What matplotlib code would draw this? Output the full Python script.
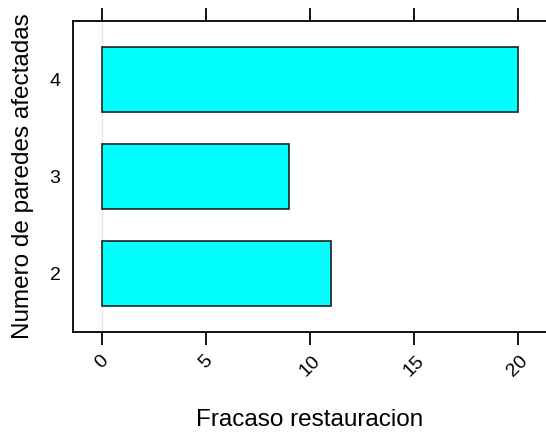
import numpy as np
import matplotlib.pyplot as plt

# ---------------- DATA ---------------- #
categorias = ["2", "3", "4"]
fracasos = [11, 9, 20]
x_ticks = [0, 5, 10, 15, 20]

plt.rcParams['font.family'] = ['Liberation Sans', 'DejaVu Sans']

fig = plt.figure(figsize=(5.46, 4.36), dpi=100)
ax = fig.add_axes([73 / 546, 1 - 332 / 436, 474 / 546, 311 / 436])

y = np.arange(1, len(categorias) + 1)

# reference line at origin (lattice style)
ax.axvline(0, color='#e6e6e6', lw=1, zorder=0)
ax.barh(y, fracasos, height=0.67, color='#00ffff', edgecolor='#202020', lw=1.2, zorder=2)

ax.set_xlim(-1.4, 21.4)
ax.set_ylim(0.4, 3.6)

ax.set_xticks(x_ticks)
ax.set_xticklabels([str(t) for t in x_ticks], rotation=45, fontsize=14)
ax.tick_params(axis='x', which='both', top=True, bottom=True, direction='out',
               length=9.5, width=1.3, pad=5, labeltop=False)
ax.set_yticks(y)
ax.set_yticklabels(categorias, fontsize=14)
ax.tick_params(axis='y', length=0, pad=9)

for s in ax.spines.values():
    s.set_linewidth(1.3)

ax.set_xlabel("Fracaso restauracion", fontsize=17.5, labelpad=21)
ax.set_ylabel("Numero de paredes afectadas", fontsize=17.5, labelpad=11)

fig.savefig('out.png', dpi=100)
